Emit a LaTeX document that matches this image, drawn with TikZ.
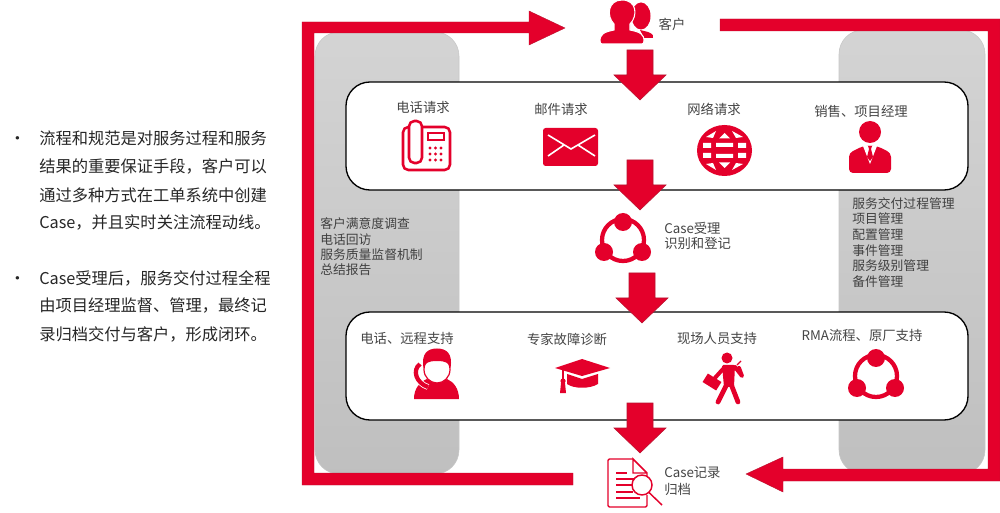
\documentclass[tikz,border=0pt]{standalone}
\usepackage{fontspec}
\setmainfont{Noto Sans CJK SC}
\definecolor{cred}{HTML}{E4002B}
\definecolor{credd}{HTML}{B8132F}
\definecolor{ctext}{HTML}{454545}
\newcommand{\downarrowblock}[2]{%
  \fill[cred,draw=credd,line width=.4pt] (#1-13,#2) -- (#1+13,#2) -- (#1+13,#2+25) -- (#1+26,#2+25) -- (#1,#2+50) -- (#1-26,#2+25) -- (#1-13,#2+25) -- cycle;}
\newcommand{\shareicon}[2]{%
  \draw[cred,line width=3.2pt] (#1,#2+18) circle [radius=21];
  \fill[cred] (#1,#2) circle [radius=9] (#1-19,#2+30) circle [radius=9] (#1+19,#2+30) circle [radius=9];}
\tikzset{
  lbl/.style={inner sep=0pt,text=ctext,font=\fontsize{10}{12}\selectfont},
  lefttxt/.style={anchor=west,inner sep=0pt,text=black!85,font=\fontsize{12.2}{14}\selectfont},
  paneltxt/.style={anchor=west,inner sep=0pt,text=black!75,font=\fontsize{9.6}{11}\selectfont},
  graypanel/.style={draw=black!22,line width=.4pt,rounded corners=18pt,top color=black!17,bottom color=black!25},
  whitebox/.style={draw=black,fill=white,line width=1pt,rounded corners=18pt},
  band/.style={fill=cred,draw=credd,line width=.3pt},
  lineicon/.style={draw=cred,line width=1.9pt,rounded corners=4pt},
}
\begin{document}
\begin{tikzpicture}[x=.75pt,y=-.75pt]
\useasboundingbox (0,0) rectangle (1000,513);
\fill[white] (0,0) rectangle (1000,513);
% grey panels
\path[graypanel] (315,32) rectangle (459,474);
\path[graypanel] (839,30) rectangle (985,474);
% white boxes
\path[whitebox] (346,82) rectangle (968,190);
\path[whitebox] (346,312) rectangle (968,420);
% outer loop, left half
\path[band] (573,473) -- (573,485) -- (302,485) -- (302,22) -- (529,22) -- (529,11) -- (565,28) -- (529,45) -- (529,33) -- (314,33) -- (314,473) -- cycle;
% outer loop, right half
\path[band] (720,19) -- (1000,19) -- (1000,481) -- (783,481) -- (783,492) -- (746,474) -- (783,457) -- (783,469) -- (988,469) -- (988,31) -- (720,31) -- cycle;
% downward arrows
\downarrowblock{640}{50}
\downarrowblock{640}{160}
\downarrowblock{642}{273}
\downarrowblock{640}{403}
% customer icon
\fill[cred] (641,16) ellipse [x radius=9.5,y radius=13.5];
\fill[cred] (640,30) -- (648,32) .. controls (653,34) and (654,36) .. (653,38) -- (644,38) -- cycle;
\fill[cred,draw=white,line width=.8pt] (600,41) .. controls (600,34) and (604,32) .. (614,30) -- (614,24) .. controls (606,16) and (608,0) .. (622,0) .. controls (637,0) and (638,16) .. (630,24) -- (630,30) .. controls (640,32) and (644,34) .. (644,41) .. controls (644,44) and (643,44) .. (641,44) -- (603,44) .. controls (601,44) and (600,44) .. (600,41) -- cycle;
% telephone
\draw[lineicon] (409,127) -- (403,127) -- (403,170) -- (450,170) -- (450,127) -- (422,127);
\draw[lineicon] (409,121) rectangle (422,163);
\draw[cred,line width=1.2pt] (428,133) rectangle (444,140);
\foreach \px in {430,435.5,441} \foreach \py in {148,154,160}
  \fill[cred] (\px,\py) circle [radius=1.6];
% envelope
\fill[cred,rounded corners=2pt] (543,128) rectangle (598,166);
\draw[white,line width=1.2pt] (548,135) -- (571,149) -- (595,135) (548,156) -- (564,145) (595,156) -- (578,145);
% globe
\fill[cred] (724.5,150.5) ellipse [x radius=27.5,y radius=25.5];
\fill[white] (716,143) rectangle (733,147) (716,154) rectangle (733,158)
  (703,143) rectangle (711,148) (703,153) rectangle (711,158)
  (738,143) rectangle (746,148) (738,153) rectangle (746,158)
  (724.5,133) -- (730,138.5) -- (719,138.5) -- cycle
  (724.5,168) -- (730,162.5) -- (719,162.5) -- cycle
  (706,137) -- (716,131) -- (713,138) -- cycle
  (743,137) -- (732,131) -- (736,138) -- cycle
  (706,164) -- (716,170) -- (713,163) -- cycle
  (743,164) -- (732,170) -- (736,163) -- cycle;
% manager
\fill[cred] (870,132) circle [radius=11];
\fill[cred,rounded corners=3pt] (849,173) -- (849,153) -- (863,146) -- (877,146) -- (891,153) -- (891,173) -- cycle;
\fill[white] (863,146) -- (870,164) -- (877,146) -- cycle;
\fill[cred] (868,146) -- (872,146) -- (871,149) -- (873,157) -- (870,161) -- (867,157) -- (869,149) -- cycle;
% share icons
\shareicon{623}{222}
\shareicon{876}{358}
% support agent
\fill[cred] (414,399) .. controls (414,388) and (420,382) .. (427,379) .. controls (433,384) and (441,384) .. (447,379) .. controls (454,382) and (459,389) .. (459,399) -- cycle;
\draw[cred,fill=white,line width=.9pt] (437,369.5) ellipse [x radius=13,y radius=13.5];
\fill[cred] (423.5,368) .. controls (421,353) and (428,348.5) .. (437,348.5) .. controls (446,348.5) and (453,353) .. (450.5,368) .. controls (449,363) and (446,361) .. (437,361) .. controls (428,361) and (425,363) .. (423.5,368) -- cycle;
\draw[white,line width=4.4pt] (420,364) .. controls (412,370) and (416,383) .. (428,387);
\draw[cred,line width=3.2pt] (420,364) .. controls (412,370) and (416,383) .. (428,387);
% mortarboard
\fill[cred] (555,368) -- (582,359) -- (610,368) -- (582,376) -- cycle;
\fill[cred] (567,374) -- (582,379) -- (598,374) -- (598,384) .. controls (590,389) and (574,389) .. (567,384) -- cycle;
\draw[cred,line width=.9pt] (563,369) -- (563,384);
\fill[cred] (563,381) circle [radius=2.6];
\fill[cred] (561,383) -- (565,383) -- (566,393) -- (560,393) -- cycle;
% walking person
\fill[cred] (727,358) circle [radius=5.5];
\draw[cred,line width=3pt,line cap=round,line join=round] (723,369) -- (714,379) (735,367) -- (742,376) -- (739,368);
\draw[cred,line width=3.6pt,line cap=round,line join=round] (727,384) -- (718,402) (731,384) -- (738,402);
\fill[cred,rounded corners=1pt] (722,365) -- (735,365) -- (734,387) -- (724,387) -- cycle;
\draw[cred,line width=.9pt] (737,365) -- (741,361);
\fill[cred,rotate around={-32:(712,382)}] (704,377) rectangle (720,387);
% document with magnifier
\draw[cred,line width=1.1pt,rounded corners=1pt,line join=round] (633,459) -- (608,459) -- (608,507) -- (647,507) -- (647,495);
\draw[cred,line width=1.1pt] (647,476) -- (647,473) -- (633,459) -- (633,473) -- (647,473);
\draw[cred,line width=1.1pt] (616,473) -- (627,473) (616,479) -- (634,479) (616,485) -- (632,485) (616,492) -- (633,492) (616,498) -- (640,498);
\draw[cred,line width=1.1pt,fill=white] (642,485) circle [radius=10];
\draw[cred,line width=1.1pt] (649,492.5) -- (662,505);
% labels
\node[lbl] (tCust) at (672,24) {客户};
\node[lbl] (tPhone) at (423,107) {电话请求};
\node[lbl] (tMail) at (561,109) {邮件请求};
\node[lbl] (tWeb) at (714,109) {网络请求};
\node[lbl] (tSales) at (861,111) {销售、项目经理};
\node[lbl,anchor=west] (tCaseA) at (664,228) {Case受理};
\node[lbl,anchor=west] (tCaseB) at (664,243) {识别和登记};
\node[lbl] (tRemote) at (407,338) {电话、远程支持};
\node[lbl] (tExpert) at (567,339) {专家故障诊断};
\node[lbl] (tField) at (717,338) {现场人员支持};
\node[lbl] (tRMA) at (862,335) {RMA流程、原厂支持};
\node[lbl,anchor=west] (tRecA) at (664,473) {Case记录};
\node[lbl,anchor=west] (tRecB) at (664,489) {归档};
% left panel text
\node[paneltxt] (pa) at (320,224) {客户满意度调查};
\node[paneltxt] (pb) at (320,240) {电话回访};
\node[paneltxt] (pc) at (320,255) {服务质量监督机制};
\node[paneltxt] (pd) at (320,270) {总结报告};
% right panel text
\node[paneltxt] (qa) at (852,204) {服务交付过程管理};
\node[paneltxt] (qb) at (852,219) {项目管理};
\node[paneltxt] (qc) at (852,235) {配置管理};
\node[paneltxt] (qd) at (852,251) {事件管理};
\node[paneltxt] (qe) at (852,266) {服务级别管理};
\node[paneltxt] (qf) at (852,282) {备件管理};
% bullets
\node[lefttxt] (ba) at (9,141) {•};
\node[lefttxt] (bb) at (9,281) {•};
\node[lefttxt] (la) at (39,138) {流程和规范是对服务过程和服务};
\node[lefttxt] (lb) at (39,166) {结果的重要保证手段，客户可以};
\node[lefttxt] (lc) at (39,195) {通过多种方式在工单系统中创建};
\node[lefttxt] (ld) at (39,222) {Case，并且实时关注流程动线。};
\node[lefttxt] (le) at (39,278) {Case受理后，服务交付过程全程};
\node[lefttxt] (lf) at (39,306) {由项目经理监督、管理，最终记};
\node[lefttxt] (lg) at (39,334) {录归档交付与客户，形成闭环。};
\end{tikzpicture}
\end{document}
